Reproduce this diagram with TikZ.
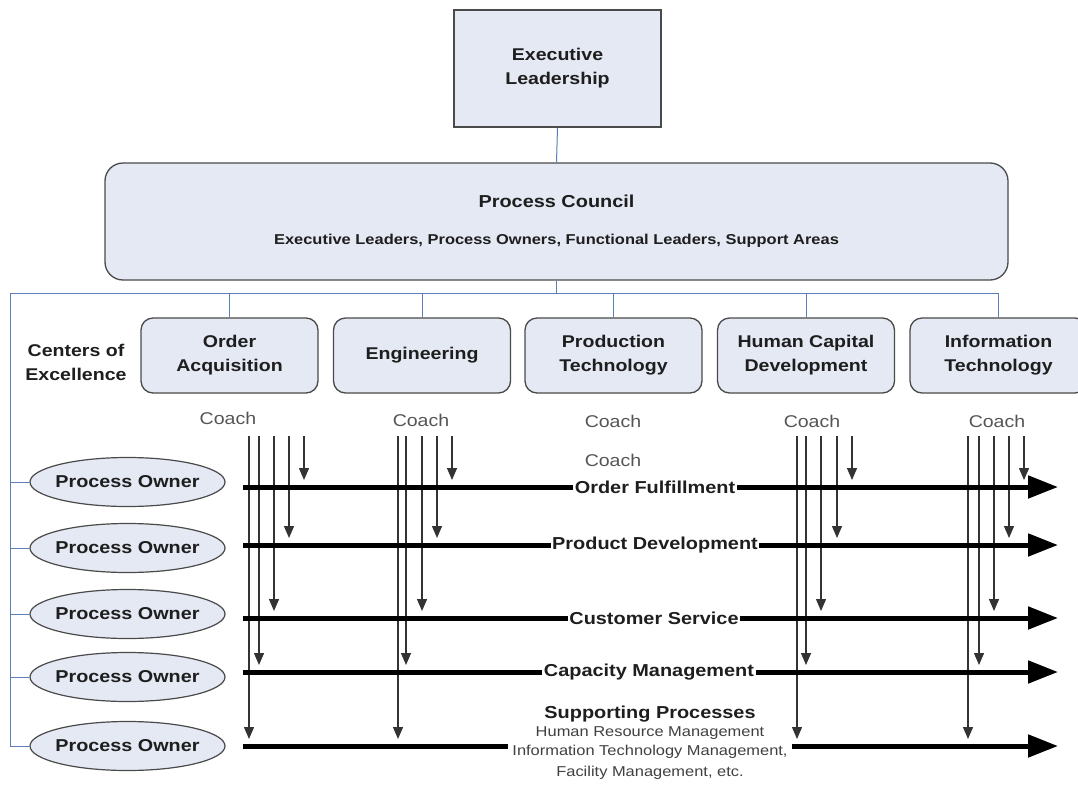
\documentclass[tikz,border=0pt]{standalone}
\usepackage{fontspec}
\setmainfont{Liberation Sans}[FakeStretch=1.15]
\usetikzlibrary{arrows.meta,shapes.geometric}
\definecolor{boxfill}{HTML}{E4E9F4}
\definecolor{boxdraw}{HTML}{4A4A4A}
\definecolor{conncol}{HTML}{5B7FB8}
\definecolor{txt}{HTML}{1E1E1E}
\definecolor{coachcol}{HTML}{555555}
\tikzset{
  bx/.style={draw=boxdraw, line width=1.3pt, fill=boxfill, align=center, text=txt,
    font=\bfseries\fontsize{17}{24}\selectfont},
  coe/.style={bx, rounded corners=12pt, minimum width=177pt, minimum height=75pt},
  po/.style={ellipse, draw=boxdraw, line width=1.2pt, fill=boxfill, text=txt,
    minimum width=195pt, minimum height=49pt, inner xsep=-14pt, inner ysep=0pt,
    font=\bfseries\fontsize{17.2}{19}\selectfont},
  conn/.style={draw=conncol, line width=1pt},
  lanearrow/.style={line width=5pt, -{Triangle[length=30pt,width=22pt]}},
  lanelab/.style={fill=white, inner sep=1.5pt, text=txt, font=\bfseries\fontsize{17.3}{19}\selectfont},
  coacharrow/.style={draw=black!80, line width=1.3pt, -{Triangle[length=12pt,width=10pt]}},
  coachlab/.style={text=coachcol, font=\fontsize{17}{19}\selectfont},
  plain/.style={text=txt, align=center, font=\bfseries\fontsize{17}{24}\selectfont},
  sublab/.style={text=black!75, fill=white, inner sep=1pt, font=\fontsize{14.3}{16}\selectfont}
}
\begin{document}
\begin{tikzpicture}[x=1pt,y=-1pt]
\useasboundingbox[fill=white] (0,0) rectangle (1078,787);

% top boxes
\node[bx, minimum width=207pt, minimum height=117pt] (exec) at (557.5,68.5) {Executive\\Leadership};
\node[bx, rounded corners=18pt, minimum width=903pt, minimum height=117pt] (pc) at (556.5,221.5) {};
\node[plain, font=\bfseries\fontsize{17.3}{20}\selectfont] (pctitle) at (556.5,201) {Process Council};
\node[plain, font=\bfseries\fontsize{14.3}{16}\selectfont] (pcsub) at (556.5,241) {Executive Leaders, Process Owners, Functional Leaders, Support Areas};

% centers of excellence
\node[coe] (coe1) at (229.5,355.5) {Order\\Acquisition};
\node[coe] (coe2) at (422,355.5) {Engineering};
\node[coe] (coe3) at (613.5,355.5) {Production\\Technology};
\node[coe] (coe4) at (806,355.5) {Human Capital\\Development};
\node[coe] (coe5) at (998.5,355.5) {Information\\Technology};
\node[plain] (coelab) at (76,362) {Centers of\\Excellence};

% process owners
\node[po] (po1) at (127.5,482) {Process Owner};
\node[po] (po2) at (127.5,548) {Process Owner};
\node[po] (po3) at (127.5,614) {Process Owner};
\node[po] (po4) at (127.5,677) {Process Owner};
\node[po] (po5) at (127.5,746) {Process Owner};

% connectors
\coordinate (busL) at (10,293);
\coordinate (busR) at (998.5,293);
\draw[conn] (exec.south) -- (pc.north);
\draw[conn] (pc.south) -- (pc.south |- busL);
\draw[conn] (busL) -- (busR);
\foreach \i in {1,...,5}{
  \draw[conn] (coe\i.north) -- (coe\i.north |- busL);
}
\draw[conn] (busL) |- (po5.west);
\foreach \i in {1,...,4}{
  \draw[conn] (po\i.west) -- (po\i.west -| busL);
}

% coach labels
\node[coachlab] (c1) at (228,418) {Coach};
\node[coachlab] (c2) at (421,420) {Coach};
\node[coachlab] (c3) at (613,421) {Coach};
\node[coachlab] (c3b) at (613,460) {Coach};
\node[coachlab] (c4) at (812,421) {Coach};
\node[coachlab] (c5) at (997,421) {Coach};

% lane coordinates (1 OF, 2 PD, 3 CS, 4 CM, 5 SP)
\coordinate (ls1) at (243,487); \coordinate (le1) at (1058,487);
\coordinate (ls2) at (243,545); \coordinate (le2) at (1058,545);
\coordinate (ls3) at (243,618); \coordinate (le3) at (1058,618);
\coordinate (ls4) at (243,672); \coordinate (le4) at (1058,672);
\coordinate (ls5) at (243,746); \coordinate (le5) at (1058,746);

% coach arrows: group x positions, listed SP, CM, CS, PD, OF
\foreach \g/\xa/\xb/\xc/\xd/\xe in {1/249/259/274/289/304, 2/398/406/422/437/452, 3/797/806/821/837/852, 4/968/979/994/1009/1024}{
  \coordinate (g\g t5) at (\xa,436); \coordinate (g\g e5) at (\xa,739);
  \coordinate (g\g t4) at (\xb,436); \coordinate (g\g e4) at (\xb,665);
  \coordinate (g\g t3) at (\xc,436); \coordinate (g\g e3) at (\xc,611);
  \coordinate (g\g t2) at (\xd,436); \coordinate (g\g e2) at (\xd,538);
  \coordinate (g\g t1) at (\xe,436); \coordinate (g\g e1) at (\xe,480);
  \foreach \k in {1,...,5}{
    \draw[coacharrow] (g\g t\k) -- (g\g e\k);
  }
}

% lanes
\foreach \k in {1,...,5}{
  \draw[lanearrow] (ls\k) -- (le\k);
}
\node[lanelab] (lab1) at (655,487) {Order Fulfillment};
\node[lanelab] (lab2) at (655,545) {Product Development};
\node[lanelab] (lab3) at (654,618) {Customer Service};
\node[lanelab] (lab4) at (649,672) {Capacity Management};
\node[lanelab, fill=none] (lab5) at (650,714) {Supporting Processes};
\node[sublab] (sp1) at (650,733) {Human Resource Management};
\node[sublab, minimum width=284pt] (sp2) at (650,752) {Information Technology Management,};
\node[sublab] (sp3) at (650,773) {Facility Management, etc.};
\end{tikzpicture}
\end{document}
